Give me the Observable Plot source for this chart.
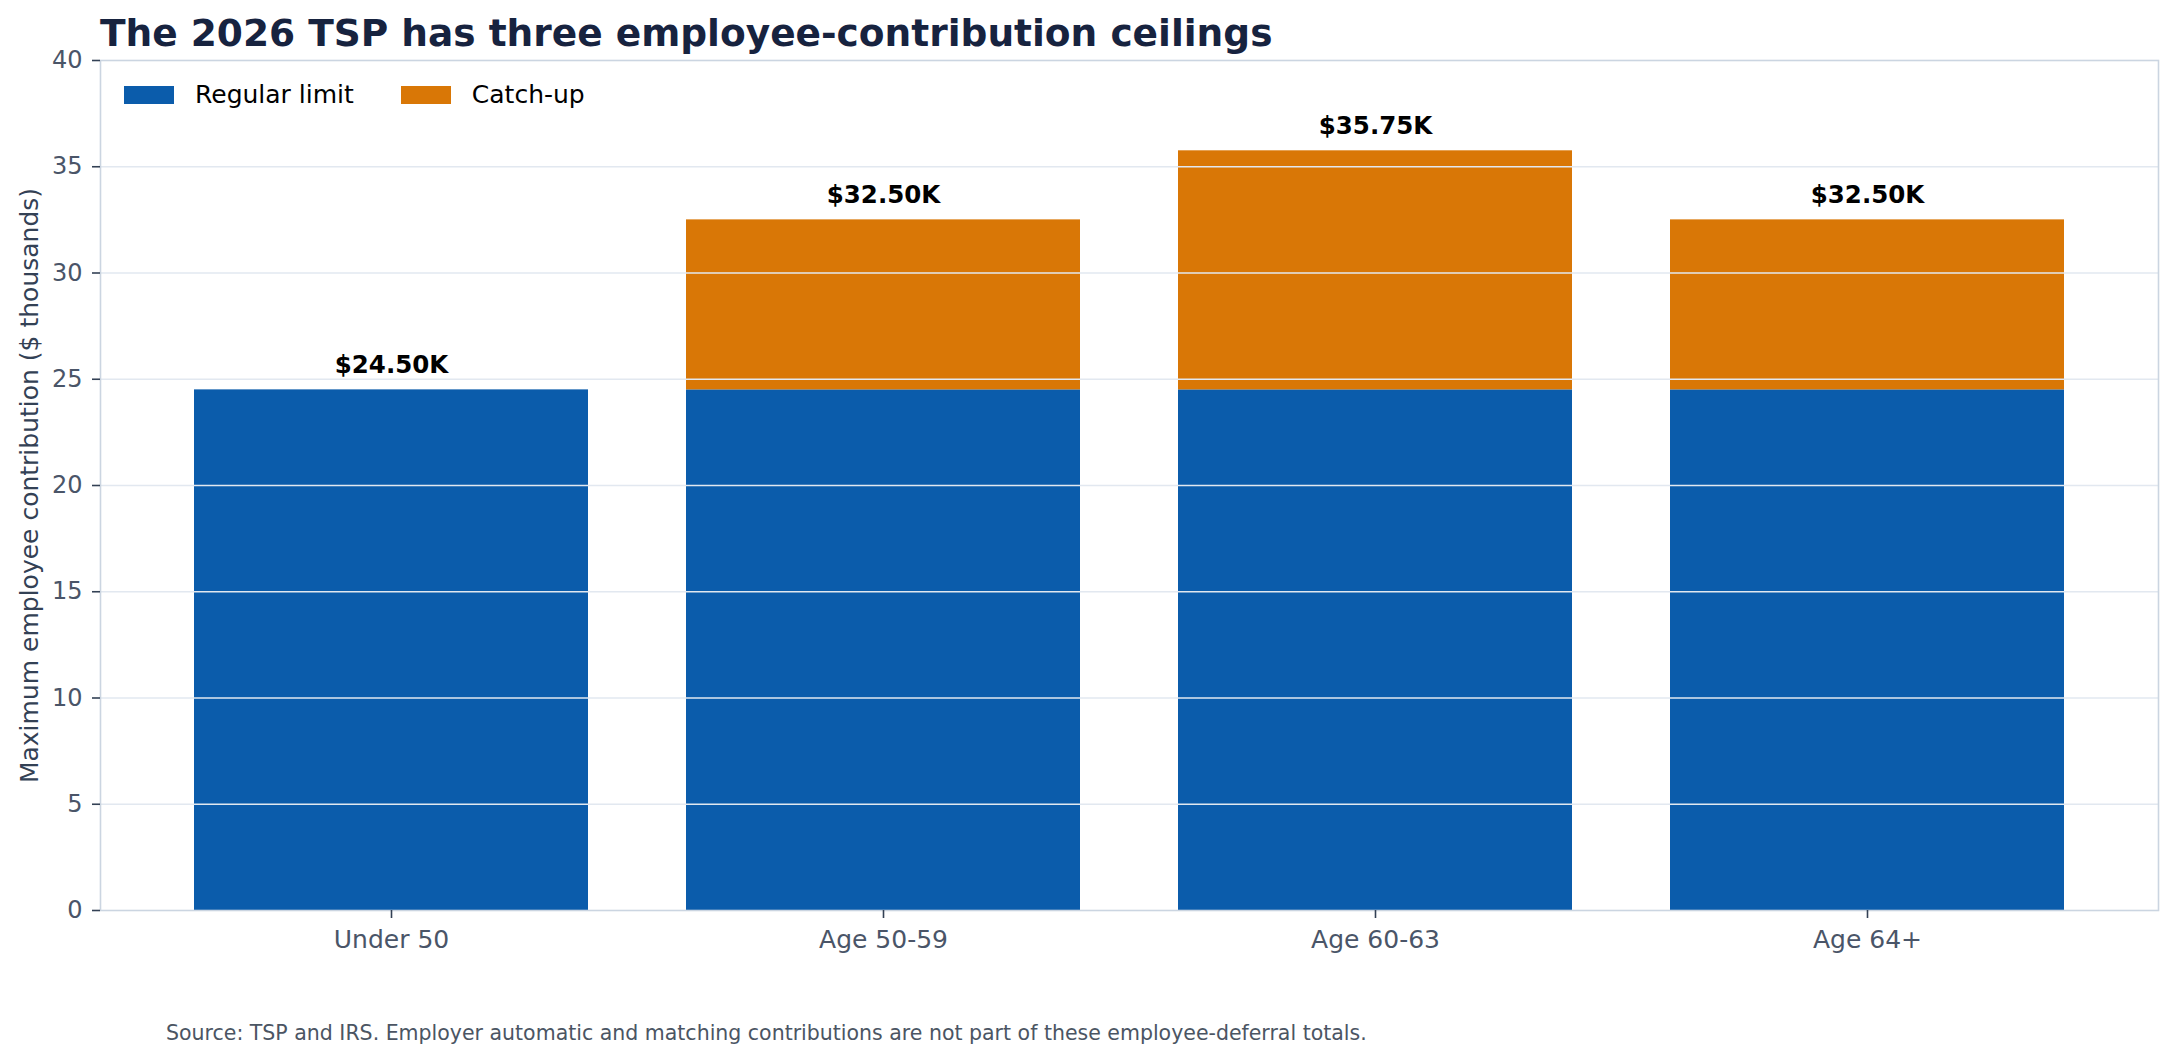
<!DOCTYPE html>
<html>
<head>
<meta charset="utf-8">
<script src="https://cdn.jsdelivr.net/npm/d3@7"></script>
<script src="https://cdn.jsdelivr.net/npm/@observablehq/plot@0.6"></script>
<style>
  html, body { margin: 0; padding: 0; background: #fff; }
  #wrap { position: relative; width: 2176px; height: 1060px; font-family: "DejaVu Sans", sans-serif; overflow: hidden; }
  #title { position: absolute; left: 100px; top: 15px; font-size: 37.5px; line-height: 1; font-weight: bold; color: #17233f; white-space: nowrap; }
  #caption { position: absolute; left: 166px; top: 1023px; font-size: 20.5px; line-height: 1; color: #4b5563; white-space: nowrap; }
  #legend { position: absolute; left: 124px; top: 82px; display: flex; align-items: center; font-size: 25px; line-height: 1; color: #000; }
  .item { display: flex; align-items: center; margin-right: 47px; }
  .sw { width: 50px; height: 18px; margin-right: 21px; }
  #chart { position: absolute; left: 0; top: 0; }
</style>
</head>
<body>
<div id="wrap">
  <div id="chart"></div>
  <div id="title"></div>
  <div id="legend"></div>
  <div id="caption"></div>
</div>
<script>
const titleText = "The 2026 TSP has three employee-contribution ceilings";
const captionText = "Source: TSP and IRS. Employer automatic and matching contributions are not part of these employee-deferral totals.";
const yLabel = "Maximum employee contribution ($ thousands)";

const categories = ["Under 50", "Age 50-59", "Age 60-63", "Age 64+"];
const seriesNames = ["Regular limit", "Catch-up"];
const regularLimit = [24.5, 24.5, 24.5, 24.5];
const catchUp = [0, 8, 11.25, 8];
const totalLabels = ["$24.50K", "$32.50K", "$35.75K", "$32.50K"];
const yTicks = [0, 5, 10, 15, 20, 25, 30, 35, 40];
const colors = ["#0b5cab", "#d97706"];

const rows = [];
categories.forEach((c, i) => rows.push({category: c, series: seriesNames[0], value: regularLimit[i]}));
categories.forEach((c, i) => rows.push({category: c, series: seriesNames[1], value: catchUp[i]}));
const totals = categories.map((c, i) => ({category: c, total: regularLimit[i] + catchUp[i], label: totalLabels[i]}));

document.getElementById("title").textContent = titleText;
document.getElementById("caption").textContent = captionText;
const legend = document.getElementById("legend");
seriesNames.forEach((s, i) => {
  const it = document.createElement("div"); it.className = "item";
  const sw = document.createElement("div"); sw.className = "sw"; sw.style.background = colors[i];
  const tx = document.createElement("span"); tx.textContent = s;
  it.appendChild(sw); it.appendChild(tx); legend.appendChild(it);
});

const plot = Plot.plot({
  width: 2176,
  height: 1060,
  marginTop: 60,
  marginBottom: 150,
  marginLeft: 100,
  marginRight: 18,
  style: {fontFamily: "DejaVu Sans, sans-serif", background: "transparent"},
  x: {domain: categories, paddingInner: 0.2, paddingOuter: 0.19, label: null},
  y: {domain: [0, 40], label: null},
  color: {domain: seriesNames, range: colors},
  marks: [
    Plot.barY(rows, {x: "category", y: "value", fill: "series"}),
    Plot.gridY(yTicks.filter(t => t > 0 && t < 40), {stroke: "#e2e8f0", strokeOpacity: 1, strokeWidth: 1.6}),
    Plot.frame({stroke: "#cbd5e1", strokeWidth: 1.6}),
    Plot.axisY({ticks: yTicks, tickSize: 8, tickPadding: 10, fontSize: 24, fill: "#4a5568", stroke: "#334155", strokeWidth: 1.6, label: null}),
    Plot.axisX({tickSize: 8, tickPadding: 12, fontSize: 25, fill: "#4a5568", stroke: "#334155", strokeWidth: 1.6, label: null}),
    Plot.text([yLabel], {frameAnchor: "left", textAnchor: "middle", lineAnchor: "middle", rotate: -90, dx: -71, fontSize: 25, fill: "#334155", text: d => d}),
    Plot.text(totals, {x: "category", y: "total", text: "label", dy: -17, lineAnchor: "bottom", fontSize: 24.5, fontWeight: "bold", fill: "#000"})
  ]
});
document.getElementById("chart").appendChild(plot);
</script>
</body>
</html>
